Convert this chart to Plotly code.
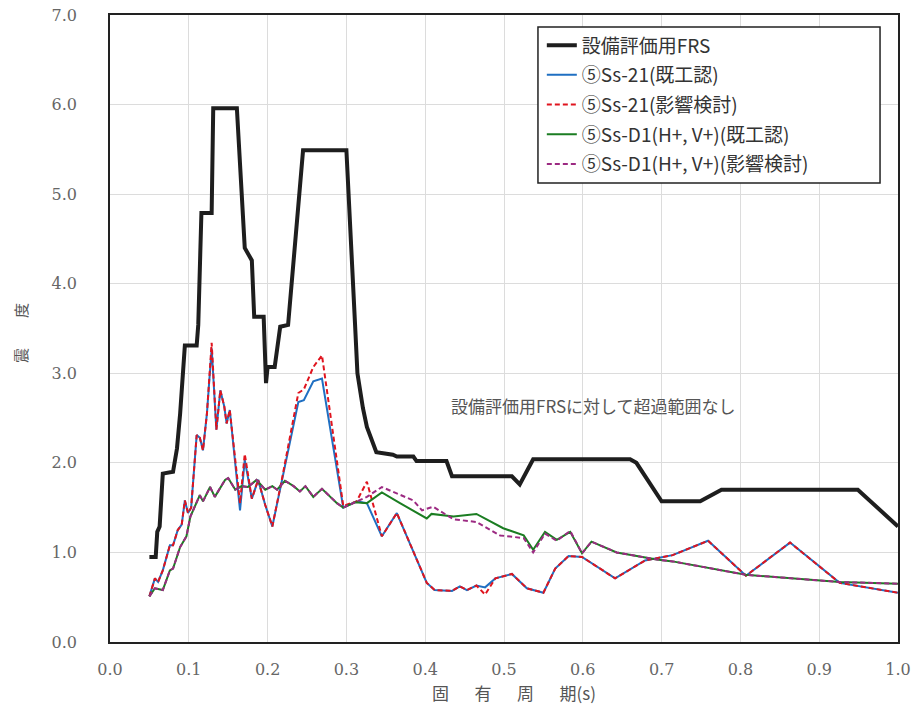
import plotly.graph_objects as go

# ---- data ----
frs_x = [0.05, 0.058, 0.060, 0.063, 0.067, 0.080, 0.085, 0.089, 0.095, 0.110, 0.112, 0.116, 0.129, 0.131, 0.161,
         0.171, 0.180, 0.183, 0.195, 0.198, 0.200, 0.209, 0.216, 0.226, 0.245, 0.300, 0.311, 0.314, 0.321, 0.326,
         0.338, 0.359, 0.364, 0.385, 0.389, 0.427, 0.434, 0.510, 0.520, 0.537, 0.660, 0.668, 0.700, 0.749, 0.776,
         0.949, 1.0]
frs_y = [0.95, 0.95, 1.23, 1.29, 1.88, 1.90, 2.16, 2.55, 3.31, 3.31, 3.54, 4.79, 4.79, 5.96, 5.96,
         4.40, 4.26, 3.63, 3.63, 2.89, 3.07, 3.07, 3.52, 3.54, 5.49, 5.49, 3.54, 3.00, 2.61, 2.40,
         2.12, 2.09, 2.07, 2.07, 2.02, 2.02, 1.85, 1.85, 1.76, 2.04, 2.04, 2.00, 1.57, 1.57, 1.70,
         1.70, 1.29]

ss21_x = [0.05, 0.057, 0.061, 0.067, 0.076, 0.080, 0.086, 0.091, 0.095, 0.099, 0.103, 0.110, 0.114, 0.118, 0.123,
          0.129, 0.135, 0.140, 0.145, 0.148, 0.152, 0.165, 0.171, 0.180, 0.188, 0.197, 0.206, 0.218, 0.239, 0.246,
          0.258, 0.269, 0.296, 0.313, 0.326, 0.345, 0.364, 0.402, 0.412, 0.434, 0.444, 0.453, 0.465, 0.476, 0.489,
          0.510, 0.529, 0.550, 0.565, 0.582, 0.599, 0.641, 0.679, 0.714, 0.759, 0.807, 0.863, 0.926, 1.0]
ss21_kizon = [0.51, 0.71, 0.67, 0.80, 1.08, 1.08, 1.25, 1.31, 1.58, 1.44, 1.50, 2.31, 2.28, 2.14, 2.55,
              3.28, 2.37, 2.81, 2.63, 2.44, 2.59, 1.47, 2.03, 1.60, 1.81, 1.53, 1.29, 1.81, 2.68, 2.70,
              2.91, 2.94, 1.50, 1.57, 1.55, 1.18, 1.44, 0.66, 0.58, 0.57, 0.62, 0.58, 0.63, 0.61, 0.71,
              0.76, 0.60, 0.55, 0.82, 0.96, 0.95, 0.71, 0.91, 0.97, 1.13, 0.74, 1.11, 0.66, 0.55]
ss21_eikyo = [0.51, 0.71, 0.67, 0.80, 1.08, 1.08, 1.25, 1.31, 1.58, 1.44, 1.50, 2.31, 2.28, 2.14, 2.55,
              3.34, 2.37, 2.81, 2.63, 2.44, 2.59, 1.55, 2.10, 1.60, 1.81, 1.53, 1.29, 1.81, 2.78, 2.82,
              3.07, 3.20, 1.52, 1.57, 1.79, 1.18, 1.44, 0.66, 0.58, 0.57, 0.62, 0.58, 0.63, 0.53, 0.71,
              0.76, 0.60, 0.55, 0.82, 0.96, 0.95, 0.71, 0.91, 0.97, 1.13, 0.74, 1.11, 0.66, 0.55]

d1_x = [0.05, 0.057, 0.067, 0.076, 0.080, 0.089, 0.097, 0.102, 0.114, 0.118, 0.127, 0.133, 0.146, 0.150, 0.159,
        0.167, 0.175, 0.186, 0.197, 0.206, 0.212, 0.222, 0.233, 0.241, 0.248, 0.258, 0.269, 0.288, 0.296, 0.311,
        0.326, 0.345, 0.368, 0.402, 0.408, 0.436, 0.465, 0.499, 0.525, 0.537, 0.552, 0.567, 0.584, 0.599, 0.611,
        0.643, 0.694, 0.714, 0.807, 0.926, 1.0]
d1_kizon = [0.51, 0.60, 0.58, 0.80, 0.82, 1.06, 1.18, 1.40, 1.64, 1.57, 1.73, 1.62, 1.81, 1.83, 1.70,
            1.74, 1.73, 1.81, 1.70, 1.74, 1.70, 1.80, 1.74, 1.68, 1.74, 1.62, 1.71, 1.55, 1.50, 1.56,
            1.55, 1.67, 1.55, 1.38, 1.43, 1.40, 1.43, 1.27, 1.19, 1.03, 1.23, 1.14, 1.23, 0.99, 1.12,
            1.00, 0.92, 0.90, 0.75, 0.67, 0.65]

d1e_x = [0.05, 0.057, 0.067, 0.076, 0.080, 0.089, 0.097, 0.102, 0.114, 0.118, 0.127, 0.133, 0.146, 0.150, 0.159,
         0.167, 0.175, 0.186, 0.197, 0.206, 0.212, 0.222, 0.233, 0.241, 0.248, 0.258, 0.269, 0.288, 0.296, 0.311,
         0.326, 0.345, 0.368, 0.385, 0.396, 0.410, 0.436, 0.465, 0.495, 0.525, 0.537, 0.552, 0.567, 0.584, 0.599,
         0.611, 0.643, 0.694, 0.714, 0.807, 0.926, 1.0]
d1_eikyo = [0.51, 0.60, 0.58, 0.80, 0.82, 1.06, 1.18, 1.40, 1.64, 1.57, 1.73, 1.62, 1.81, 1.83, 1.70,
            1.74, 1.73, 1.81, 1.70, 1.74, 1.70, 1.80, 1.74, 1.68, 1.74, 1.62, 1.71, 1.55, 1.50, 1.56,
            1.62, 1.73, 1.64, 1.58, 1.47, 1.51, 1.37, 1.34, 1.19, 1.16, 1.00, 1.21, 1.13, 1.24, 0.99,
            1.12, 1.00, 0.92, 0.90, 0.75, 0.67, 0.65]

names = ["設備評価用FRS", "⑤Ss-21(既工認)", "⑤Ss-21(影響検討)",
         "⑤Ss-D1(H+, V+)(既工認)", "⑤Ss-D1(H+, V+)(影響検討)"]
x_ticks = [0.0, 0.1, 0.2, 0.3, 0.4, 0.5, 0.6, 0.7, 0.8, 0.9, 1.0]
y_ticks = [0.0, 1.0, 2.0, 3.0, 4.0, 5.0, 6.0, 7.0]
note_text = "設備評価用FRSに対して超過範囲なし"
x_title = "固\u3000\u2002有\u3000\u2002周\u3000\u2002期(s)"
y_title = "震\u3000\u3000度"

fig = go.Figure()
fig.add_trace(go.Scatter(x=frs_x, y=frs_y, mode="lines", name=names[0],
                         line=dict(color="#1e1e1e", width=4), legendgroup="a"))
fig.add_trace(go.Scatter(x=ss21_x, y=ss21_kizon, mode="lines", name=names[1],
                         line=dict(color="#1f6fc2", width=2), legendgroup="b"))
fig.add_trace(go.Scatter(x=ss21_x, y=ss21_eikyo, mode="lines", name=names[2],
                         line=dict(color="#e0141e", width=2, dash="5px,3px"), legendgroup="c"))
fig.add_trace(go.Scatter(x=d1_x, y=d1_kizon, mode="lines", name=names[3],
                         line=dict(color="#1b7d22", width=2), legendgroup="d"))
fig.add_trace(go.Scatter(x=d1e_x, y=d1_eikyo, mode="lines", name=names[4],
                         line=dict(color="#9c2a82", width=2, dash="5px,3px"), legendgroup="e"))

serif = "DejaVu Serif"
cjk = "Noto Sans CJK JP"

fig.update_layout(
    width=918, height=706,
    margin=dict(l=110, r=20, t=15, b=64, autoexpand=False),
    plot_bgcolor="white", paper_bgcolor="white",
    showlegend=True,
    legend=dict(x=0.548, y=0.982, xanchor="left", yanchor="top",
                bgcolor="rgba(0,0,0,0)", borderwidth=0,
                font=dict(family=cjk, size=19, color="#333"),
                traceorder="grouped", tracegroupgap=2),
    shapes=[dict(type="rect", xref="paper", yref="paper", x0=0.5431, x1=0.9772, y0=0.7321, y1=0.9809,
                 line=dict(color="#222", width=1.5), fillcolor="white", layer="above")],
    annotations=[
        dict(text=note_text, x=0.613, y=2.645, xref="x", yref="y", showarrow=False,
             xanchor="center", yanchor="middle", font=dict(family=cjk, size=17, color="#555")),
        dict(text=y_title, x=-0.1142, y=0.4928, xref="paper", yref="paper", showarrow=False,
             textangle=-90, xanchor="center", yanchor="middle",
             font=dict(family=cjk, size=15, color="#555")),
        dict(text=x_title, x=0.5127, y=-0.0813, xref="paper", yref="paper", showarrow=False,
             xanchor="center", yanchor="middle",
             font=dict(family=cjk, size=17, color="#555")),
    ],
)
fig.update_xaxes(range=[0, 1], tickvals=x_ticks, tickformat=".1f", automargin=False,
                 showgrid=True, gridcolor="#dcdcdc", gridwidth=1,
                 showline=True, linecolor="#222", linewidth=1.5, mirror=True,
                 ticks="", ticklabelstandoff=12,
                 tickfont=dict(family=serif, size=16, color="#666"),
                 zeroline=False)
fig.update_yaxes(range=[0, 7], tickvals=y_ticks, tickformat=".1f", automargin=False,
                 showgrid=True, gridcolor="#dcdcdc", gridwidth=1,
                 showline=True, linecolor="#222", linewidth=1.5, mirror=True,
                 ticks="", ticklabelstandoff=28,
                 tickfont=dict(family=serif, size=16, color="#666"),
                 zeroline=False)

fig.write_html("out.html", config={"displayModeBar": False},
               post_script="document.body.style.margin='0';")
